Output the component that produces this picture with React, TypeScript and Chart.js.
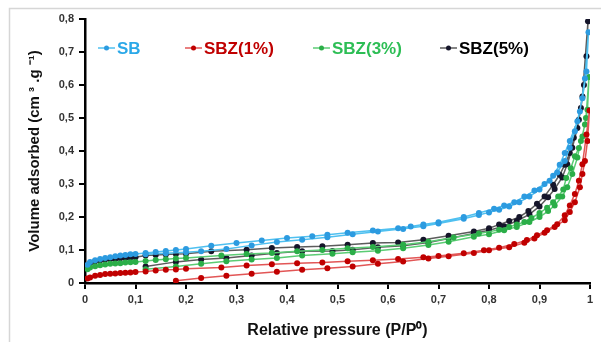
import React, { useEffect, useRef } from "react";
import { Chart, registerables } from "chart.js";

Chart.register(...registerables);

// ---------- DATA ----------
const SERIES_NAMES = ["SB", "SBZ(1%)", "SBZ(3%)", "SBZ(5%)"];
const X_TICK_VALUES = [0, 0.1, 0.2, 0.3, 0.4, 0.5, 0.6, 0.7, 0.8, 0.9, 1];
const Y_TICK_VALUES = [0, 0.1, 0.2, 0.3, 0.4, 0.5, 0.6, 0.7, 0.8];

// [P/P0, volume] pairs — adsorption branch (ascending), then desorption branch (descending)
const SB_ADS: [number, number][] = [
  [0.12, 0.087], [0.16, 0.09], [0.2, 0.093], [0.23, 0.096], [0.28, 0.103], [0.33, 0.114],
  [0.38, 0.124], [0.43, 0.131], [0.48, 0.139], [0.53, 0.148], [0.58, 0.156], [0.63, 0.164],
  [0.67, 0.172], [0.7, 0.18], [0.75, 0.195], [0.78, 0.206], [0.8, 0.214], [0.82, 0.222],
  [0.84, 0.232], [0.86, 0.245], [0.88, 0.262], [0.9, 0.283], [0.92, 0.31], [0.935, 0.335],
  [0.95, 0.37], [0.96, 0.41], [0.97, 0.46], [0.98, 0.52], [0.99, 0.62], [0.997, 0.76],
];
const SB_DES: [number, number][] = [
  [0.993, 0.641], [0.985, 0.56], [0.975, 0.49], [0.96, 0.43], [0.95, 0.394], [0.94, 0.358],
  [0.927, 0.325], [0.91, 0.3], [0.89, 0.28], [0.87, 0.262], [0.85, 0.245], [0.83, 0.235],
  [0.81, 0.225], [0.78, 0.212], [0.75, 0.2], [0.7, 0.184], [0.67, 0.177], [0.645, 0.171],
  [0.62, 0.166], [0.57, 0.159], [0.52, 0.152], [0.48, 0.146], [0.45, 0.142], [0.4, 0.136],
  [0.35, 0.129], [0.3, 0.121], [0.25, 0.113], [0.2, 0.103], [0.18, 0.1], [0.16, 0.097],
  [0.14, 0.094], [0.12, 0.091], [0.1, 0.088], [0.09, 0.087], [0.08, 0.085], [0.07, 0.083],
  [0.06, 0.081], [0.05, 0.078], [0.04, 0.076], [0.03, 0.073], [0.02, 0.069], [0.01, 0.064],
  [0.005, 0.055],
];

const SBZ1_ADS: [number, number][] = [
  [0.18, 0.007], [0.23, 0.015], [0.28, 0.022], [0.33, 0.028], [0.38, 0.034], [0.43, 0.04],
  [0.48, 0.045], [0.53, 0.05], [0.58, 0.058], [0.63, 0.065], [0.68, 0.074], [0.72, 0.081],
  [0.77, 0.091], [0.8, 0.099], [0.84, 0.108], [0.87, 0.122], [0.89, 0.135], [0.91, 0.152],
  [0.93, 0.17], [0.95, 0.19], [0.96, 0.215], [0.97, 0.245], [0.98, 0.29], [0.985, 0.33],
  [0.99, 0.37], [0.995, 0.43], [0.999, 0.523],
];
const SBZ1_DES: [number, number][] = [
  [0.993, 0.45], [0.985, 0.36], [0.978, 0.31], [0.97, 0.27], [0.96, 0.235], [0.95, 0.205],
  [0.935, 0.178], [0.915, 0.16], [0.895, 0.145], [0.875, 0.13], [0.85, 0.118], [0.82, 0.107],
  [0.79, 0.099], [0.75, 0.09], [0.7, 0.082], [0.67, 0.078], [0.62, 0.073], [0.57, 0.069],
  [0.52, 0.066], [0.47, 0.062], [0.42, 0.06], [0.37, 0.057], [0.32, 0.053], [0.27, 0.047],
  [0.2, 0.043], [0.18, 0.041], [0.16, 0.04], [0.14, 0.038], [0.12, 0.035], [0.1, 0.033],
  [0.09, 0.032], [0.08, 0.031], [0.07, 0.03], [0.06, 0.029], [0.05, 0.028], [0.04, 0.027],
  [0.03, 0.024], [0.02, 0.022], [0.01, 0.017], [0.005, 0.014],
];

const SBZ3_ADS: [number, number][] = [
  [0.12, 0.042], [0.18, 0.05], [0.23, 0.058], [0.28, 0.066], [0.33, 0.071], [0.38, 0.076],
  [0.43, 0.083], [0.49, 0.089], [0.53, 0.093], [0.58, 0.098], [0.63, 0.105], [0.68, 0.115],
  [0.72, 0.125], [0.77, 0.14], [0.8, 0.148], [0.83, 0.16], [0.855, 0.17], [0.88, 0.185],
  [0.9, 0.2], [0.917, 0.218], [0.93, 0.235], [0.945, 0.262], [0.955, 0.29], [0.965, 0.33],
  [0.975, 0.38], [0.982, 0.43], [0.99, 0.48], [0.995, 0.525], [0.998, 0.624],
];
const SBZ3_DES: [number, number][] = [
  [0.992, 0.5], [0.985, 0.444], [0.978, 0.409], [0.97, 0.384], [0.962, 0.348], [0.953, 0.318],
  [0.947, 0.283], [0.937, 0.262], [0.927, 0.245], [0.915, 0.228], [0.9, 0.212], [0.884, 0.197],
  [0.87, 0.185], [0.855, 0.177], [0.84, 0.17], [0.82, 0.161], [0.78, 0.15], [0.73, 0.138],
  [0.68, 0.125], [0.63, 0.116], [0.57, 0.109], [0.52, 0.105], [0.47, 0.1], [0.42, 0.096],
  [0.37, 0.091], [0.32, 0.088], [0.27, 0.083], [0.2, 0.076], [0.18, 0.074], [0.16, 0.072],
  [0.14, 0.07], [0.12, 0.067], [0.1, 0.064], [0.09, 0.063], [0.08, 0.062], [0.07, 0.06],
  [0.06, 0.059], [0.05, 0.058], [0.04, 0.056], [0.03, 0.054], [0.02, 0.051], [0.01, 0.047],
  [0.005, 0.042],
];

const SBZ5_ADS: [number, number][] = [
  [0.12, 0.05], [0.18, 0.064], [0.23, 0.071], [0.28, 0.076], [0.33, 0.083], [0.38, 0.091],
  [0.43, 0.096], [0.49, 0.097], [0.53, 0.101], [0.58, 0.108], [0.63, 0.113], [0.68, 0.123],
  [0.72, 0.135], [0.77, 0.15], [0.8, 0.16], [0.83, 0.172], [0.855, 0.188], [0.88, 0.208],
  [0.9, 0.232], [0.917, 0.26], [0.93, 0.285], [0.945, 0.32], [0.955, 0.36], [0.965, 0.41],
  [0.975, 0.47], [0.982, 0.53], [0.988, 0.6], [0.993, 0.687], [0.996, 0.793],
];
const SBZ5_DES: [number, number][] = [
  [0.985, 0.565], [0.978, 0.495], [0.968, 0.44], [0.96, 0.394], [0.95, 0.358], [0.94, 0.328],
  [0.927, 0.298], [0.91, 0.262], [0.895, 0.24], [0.878, 0.218], [0.86, 0.2], [0.84, 0.188],
  [0.82, 0.177], [0.8, 0.166], [0.77, 0.156], [0.72, 0.143], [0.67, 0.131], [0.62, 0.123],
  [0.57, 0.121], [0.52, 0.116], [0.47, 0.111], [0.42, 0.109], [0.37, 0.106], [0.32, 0.101],
  [0.25, 0.096], [0.2, 0.089], [0.18, 0.088], [0.16, 0.086], [0.14, 0.085], [0.12, 0.083],
  [0.1, 0.078], [0.09, 0.077], [0.08, 0.076], [0.07, 0.075], [0.06, 0.073], [0.05, 0.072],
  [0.04, 0.071], [0.03, 0.068], [0.02, 0.066], [0.01, 0.06], [0.005, 0.052],
];

const SERIES_DATA = [
  [SB_ADS, SB_DES],
  [SBZ1_ADS, SBZ1_DES],
  [SBZ3_ADS, SBZ3_DES],
  [SBZ5_ADS, SBZ5_DES],
];

// ---------- STYLE ----------
const FONT = "'Liberation Sans', Arial, sans-serif";
const LINE_COLORS = ["#4FC0F0", "#E25656", "#5BCC74", "#5C5C5C"];
const MARKER_COLORS = ["#2C9BE0", "#C00000", "#2BAE48", "#15152A"];
const LEGEND_TEXT_COLORS = ["#2BA8E8", "#C00000", "#2DBE55", "#000000"];
const LEGEND_X = [98, 185, 313, 440];
const LEGEND_Y = 48;

const fmt = (v: number) => (v === 0 ? "0" : v === 1 ? "1" : v.toFixed(1).replace(".", ","));

const framePlugin = {
  id: "frame",
  beforeDraw(chart: any) {
    const ctx = chart.ctx;
    ctx.save();
    ctx.fillStyle = "#ffffff";
    ctx.fillRect(0, 0, chart.width, chart.height);
    ctx.strokeStyle = "#D6D6D6";
    ctx.lineWidth = 1.5;
    ctx.strokeRect(9.5, 8.5, 700, 500);
    ctx.restore();
  },
};

const legendPlugin = {
  id: "insideLegend",
  afterDraw(chart: any) {
    const ctx = chart.ctx;
    ctx.save();
    ctx.font = `bold 17px ${FONT}`;
    ctx.textBaseline = "middle";
    ctx.textAlign = "left";
    chart.data.datasets.forEach((ds: any, i: number) => {
      const x0 = LEGEND_X[i];
      ctx.strokeStyle = ds.borderColor;
      ctx.lineWidth = 1.5;
      ctx.beginPath();
      ctx.moveTo(x0, LEGEND_Y);
      ctx.lineTo(x0 + 17, LEGEND_Y);
      ctx.stroke();
      ctx.fillStyle = ds.pointBackgroundColor;
      ctx.beginPath();
      ctx.arc(x0 + 8.5, LEGEND_Y, 2.5, 0, Math.PI * 2);
      ctx.fill();
      ctx.fillStyle = LEGEND_TEXT_COLORS[i];
      ctx.fillText(ds.label, x0 + 19, LEGEND_Y + 1);
    });
    ctx.restore();
  },
};

export default function App() {
  const ref = useRef<HTMLCanvasElement | null>(null);

  useEffect(() => {
    if (!ref.current) return;
    const datasets = SERIES_NAMES.map((name, i) => ({
      label: name,
      data: [...SERIES_DATA[i][0], ...SERIES_DATA[i][1]].map(([x, y]) => ({ x, y })),
      showLine: true,
      borderColor: LINE_COLORS[i],
      borderWidth: 1.5,
      pointBackgroundColor: MARKER_COLORS[i],
      pointBorderColor: MARKER_COLORS[i],
      pointBorderWidth: 0,
      pointRadius: 3,
      tension: 0,
      fill: false,
    }));

    const chart = new Chart(ref.current, {
      type: "scatter",
      data: { datasets },
      options: {
        animation: false,
        responsive: false,
        devicePixelRatio: 1,
        layout: { padding: { top: 19, right: 11, left: 0, bottom: 0 } },
        plugins: { legend: { display: false }, tooltip: { enabled: false } },
        scales: {
          x: {
            type: "linear",
            min: 0,
            max: 1,
            afterBuildTicks: (s: any) => {
              s.ticks = X_TICK_VALUES.map((v) => ({ value: v }));
            },
            afterFit: (s: any) => {
              s.height = 59;
            },
            ticks: {
              callback: (v: any) => fmt(Number(v)),
              color: "#333333",
              font: { family: FONT, size: 11, weight: "bold" },
              padding: 4,
              maxRotation: 0,
            },
            grid: { drawOnChartArea: false, color: "#000", lineWidth: 2, tickLength: 6 },
            border: { color: "#000", width: 2.5 },
            title: {
              display: true,
              text: "Relative pressure (P/P⁰)",
              color: "#111111",
              font: { family: FONT, size: 16, weight: "bold" },
              padding: { top: 0, bottom: 2 },
            },
          },
          y: {
            type: "linear",
            min: 0,
            max: 0.8,
            afterBuildTicks: (s: any) => {
              s.ticks = Y_TICK_VALUES.map((v) => ({ value: v }));
            },
            afterFit: (s: any) => {
              s.width = 85;
            },
            ticks: {
              callback: (v: any) => fmt(Number(v)),
              color: "#333333",
              font: { family: FONT, size: 11, weight: "bold" },
              padding: 5,
            },
            grid: { drawOnChartArea: false, color: "#000", lineWidth: 2, tickLength: 6 },
            border: { color: "#000", width: 2.5 },
            title: {
              display: true,
              text: "Volume adsorbed (cm ³ .g ⁻¹)",
              color: "#111111",
              font: { family: FONT, size: 15, weight: "bold" },
              padding: { top: 26, bottom: 0 },
            },
          },
        },
      },
      plugins: [framePlugin, legendPlugin],
    } as any);
    return () => chart.destroy();
  }, []);

  return (
    <div style={{ position: "fixed", left: 0, top: 0, width: 601, height: 342, background: "#fff" }}>
      <canvas ref={ref} width={601} height={342} style={{ display: "block", width: 601, height: 342 }} />
    </div>
  );
}
